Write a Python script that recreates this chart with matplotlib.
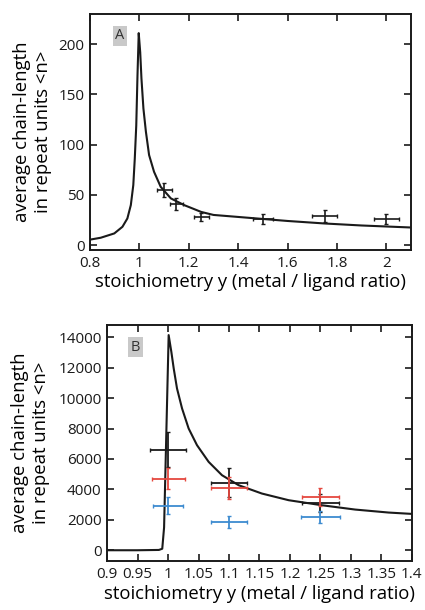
import matplotlib
matplotlib.use("Agg")
import matplotlib.pyplot as plt

plt.rcParams['font.family'] = ['Open Sans', 'DejaVu Sans']

# ---- Panel A data ----
a_curve_x = [0.79, 0.843, 0.898, 0.931, 0.951, 0.965, 0.975, 0.981, 0.987, 0.992, 0.997,
             1.003, 1.008, 1.016, 1.026, 1.039, 1.059, 1.086, 1.127, 1.181, 1.25, 1.30,
             1.40, 1.50, 1.60, 1.75, 1.90, 2.00, 2.10]
a_curve_y = [5, 7.3, 11.6, 18.2, 26.5, 39.8, 59.7, 86, 119, 169, 211,
             192, 166, 136, 113, 89.6, 73, 58, 46.5, 39.8, 33, 30,
             28, 26, 24, 21.5, 19.5, 18.5, 17.5]
a_x = [1.10, 1.15, 1.25, 1.50, 1.75, 2.00]
a_y = [55, 41, 28, 26, 29, 26]
a_xerr = [0.03, 0.025, 0.03, 0.04, 0.05, 0.05]
a_yerr = [7, 6, 4, 5, 6, 5]

# ---- Panel B data ----
b_curve_x = [0.90, 0.95, 0.985, 0.9905, 0.9935, 1.001, 1.0054, 1.0093, 1.0147, 1.023, 1.0338,
             1.0475, 1.0666, 1.0885, 1.1158, 1.154, 1.198, 1.252, 1.307, 1.362, 1.40]
b_curve_y = [0, 0, 20, 100, 1500, 14145, 13046, 11952, 10636, 9320, 8004,
             6908, 5811, 4934, 4276, 3728, 3289, 2961, 2675, 2478, 2390]
b_x = [1.00, 1.10, 1.25]
b_black_y = [6600, 4450, 3100]
b_black_yerr = [1150, 950, 600]
b_black_xerr = [0.03, 0.03, 0.03]
b_red_y = [4700, 4100, 3480]
b_red_yerr = [700, 700, 600]
b_red_xerr = [0.027, 0.03, 0.03]
b_blue_y = [2920, 1850, 2180]
b_blue_yerr = [550, 400, 380]
b_blue_xerr = [0.025, 0.03, 0.032]

a_xticks = [0.8, 1, 1.2, 1.4, 1.6, 1.8, 2]
a_xticklabels = ['0.8', '1', '1.2', '1.4', '1.6', '1.8', '2']
a_yticks = [0, 50, 100, 150, 200]
b_xticks = [0.9, 0.95, 1, 1.05, 1.1, 1.15, 1.2, 1.25, 1.3, 1.35, 1.4]
b_xticklabels = ['0.9', '0.95', '1', '1.05', '1.1', '1.15', '1.2', '1.25', '1.3', '1.35', '1.4']
b_yticks = [0, 2000, 4000, 6000, 8000, 10000, 12000, 14000]

xlabel = 'stoichiometry y (metal / ligand ratio)'
ylabel = 'average chain-length\nin repeat units <n>'

RED = '#e5483f'
BLUE = '#3d8bd0'
INK = '#1a1a1a'

fig = plt.figure(figsize=(4.25, 6.1), dpi=100)
axA = fig.add_axes([0.212, 0.590, 0.755, 0.387])
axB = fig.add_axes([0.252, 0.080, 0.717, 0.387])


def style(ax):
    for s in ax.spines.values():
        s.set_linewidth(1.4)
        s.set_color(INK)
    ax.tick_params(direction='in', top=True, right=True, length=5, width=1.2,
                   labelsize=11, colors=INK, pad=4)


# Panel A
axA.plot(a_curve_x, a_curve_y, color=INK, lw=1.5, solid_joinstyle='round')
axA.errorbar(a_x, a_y, xerr=a_xerr, yerr=a_yerr, fmt='none', ecolor=INK,
             elinewidth=1.2, capsize=1.5)
axA.set_xlim(0.8, 2.1)
axA.set_ylim(-5, 230)
axA.set_xticks(a_xticks)
axA.set_xticklabels(a_xticklabels)
axA.set_yticks(a_yticks)
style(axA)
axA.set_xlabel(xlabel, fontsize=13.3, labelpad=2)
axA.set_ylabel(ylabel, fontsize=13.3)
axA.yaxis.set_label_coords(-0.118, 0.5)
axA.text(0.093, 0.907, 'A', transform=axA.transAxes, fontsize=10.5, ha='center', va='center',
         color='#333333',
         bbox=dict(boxstyle='square,pad=0.18', fc='#c9c9c9', ec='none'))

# Panel B
axB.plot(b_curve_x, b_curve_y, color=INK, lw=1.5, solid_joinstyle='round')
for y, yerr, xerr, c in [(b_black_y, b_black_yerr, b_black_xerr, INK),
                         (b_red_y, b_red_yerr, b_red_xerr, RED),
                         (b_blue_y, b_blue_yerr, b_blue_xerr, BLUE)]:
    axB.errorbar(b_x, y, xerr=xerr, yerr=yerr, fmt='none', ecolor=c,
                 elinewidth=1.3, capsize=1.5)
axB.set_xlim(0.9, 1.4)
axB.set_ylim(-720, 14800)
axB.set_xticks(b_xticks)
axB.set_xticklabels(b_xticklabels)
axB.set_yticks(b_yticks)
style(axB)
axB.set_xlabel(xlabel, fontsize=13.3, labelpad=2)
axB.set_ylabel(ylabel, fontsize=13.3)
axB.yaxis.set_label_coords(-0.187, 0.5)
axB.text(0.093, 0.907, 'B', transform=axB.transAxes, fontsize=10.5, ha='center', va='center',
         color='#333333',
         bbox=dict(boxstyle='square,pad=0.18', fc='#c9c9c9', ec='none'))

fig.savefig('out.png', dpi=100, facecolor='white')
